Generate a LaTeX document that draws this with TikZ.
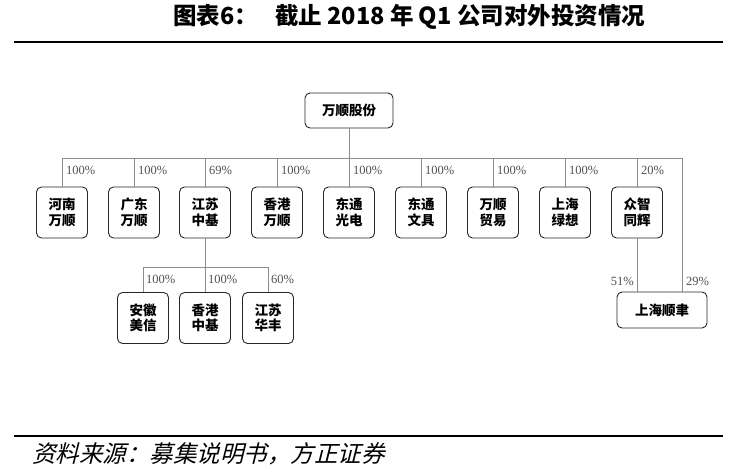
\documentclass[tikz,border=0pt]{standalone}
\usepackage{fontspec}
\setmainfont{Liberation Serif}
\newfontfamily\cjk{Noto Sans CJK SC}
\newfontfamily\cjkit{Noto Sans CJK SC}[FakeSlant=0.25]
\usetikzlibrary{positioning}
\definecolor{lineGray}{RGB}{140,140,140}
\definecolor{shareGray}{RGB}{80,80,80}
\tikzstyle{company}=[draw=black!85, line width=0.9pt, rounded corners=5pt, minimum width=51pt, minimum height=51pt, inner sep=0pt, align=center, font=\cjk\bfseries\fontsize{13.5}{15.5}\selectfont]
\tikzstyle{wideCompany}=[company, minimum width=90pt, minimum height=36pt]
\tikzstyle{holding}=[-, draw=lineGray, line width=0.6pt]
\tikzstyle{share}=[inner sep=0pt, text=shareGray, font=\fontsize{12.5}{12.5}\selectfont]

\begin{document}
\begin{tikzpicture}[x=1pt, y=-1pt]
  \useasboundingbox (0,0) rectangle (736,470);

  % Title and rules
  \node [anchor=west, inner sep=0pt, font=\cjk\bfseries\fontsize{23.5}{25}\selectfont] (title) at (173,17) {图表6：\hspace{17pt}截止 2018 年 Q1 公司对外投资情况};
  \draw [line width=2.5pt] (14,42) -- (723,42);
  \draw [line width=2.5pt] (14,436) -- (723,436);
  \node [anchor=west, inner sep=0pt, font=\cjkit\fontsize{23.5}{25}\selectfont] (source) at (32,454) {资料来源：募集说明书，方正证券};

  % Nodes
  \node [company, minimum width=88pt, minimum height=35pt] (wsgf) at (349,110.5) {万顺股份};

  \node [company] (hnws) at (62,212.5) {河南\\万顺};
  \node [company] (gdws) at (134,212.5) {广东\\万顺};
  \node [company] (jszj) at (205,212.5) {江苏\\中基};
  \node [company] (xgws) at (277,212.5) {香港\\万顺};
  \node [company] (dtgd) at (349,212.5) {东通\\光电};
  \node [company] (dtwj) at (421,212.5) {东通\\文具};
  \node [company] (wsmy) at (493,212.5) {万顺\\贸易};
  \node [company] (shlx) at (565,212.5) {上海\\绿想};
  \node [company] (zzth) at (637,212.5) {众智\\同辉};

  \node [company] (ahmx) at (143,318) {安徽\\美信};
  \node [company] (xgzj) at (205,318) {香港\\中基};
  \node [company] (jshf) at (268,318) {江苏\\华丰};

  \node [wideCompany] (shsy) at (662,310) {上海顺聿};
  \coordinate (shsyin) at ([xshift=20pt]shsy.north);

  % Holdings
  \draw [holding] (wsgf.south) -- ++(0,30) -| (hnws.north);
  \draw [holding] (wsgf.south) -- ++(0,30) -| (gdws.north);
  \draw [holding] (wsgf.south) -- ++(0,30) -| (jszj.north);
  \draw [holding] (wsgf.south) -- ++(0,30) -| (xgws.north);
  \draw [holding] (wsgf.south) -- (dtgd.north);
  \draw [holding] (wsgf.south) -- ++(0,30) -| (dtwj.north);
  \draw [holding] (wsgf.south) -- ++(0,30) -| (wsmy.north);
  \draw [holding] (wsgf.south) -- ++(0,30) -| (shlx.north);
  \draw [holding] (wsgf.south) -- ++(0,30) -| (zzth.north);
  \draw [holding] (wsgf.south) -- ++(0,30) -| (shsyin);

  \draw [holding] (jszj.south) -- ++(0,29) -| (ahmx.north);
  \draw [holding] (jszj.south) -- (xgzj.north);
  \draw [holding] (jszj.south) -- ++(0,29) -| (jshf.north);

  \draw [holding] (zzth.south) -- (zzth.south |- shsy.north);

  % Shares
  \node [share, anchor=west] (phnws) at (66,170) {100\%};
  \node [share, anchor=west] (pgdws) at (138,170) {100\%};
  \node [share, anchor=west] (pjszj) at (209,170) {69\%};
  \node [share, anchor=west] (pxgws) at (281,170) {100\%};
  \node [share, anchor=west] (pdtgd) at (353,170) {100\%};
  \node [share, anchor=west] (pdtwj) at (425,170) {100\%};
  \node [share, anchor=west] (pwsmy) at (497,170) {100\%};
  \node [share, anchor=west] (pshlx) at (569,170) {100\%};
  \node [share, anchor=west] (pzzth) at (641,170) {20\%};

  \node [share, anchor=west] (pahmx) at (146,279) {100\%};
  \node [share, anchor=west] (pxgzj) at (208,279) {100\%};
  \node [share, anchor=west] (pjshf) at (271,279) {60\%};

  \node [share, anchor=east] (pzzsy) at (634,281) {51\%};
  \node [share, anchor=west] (pwssy) at (686,281) {29\%};

\end{tikzpicture}
\end{document}
